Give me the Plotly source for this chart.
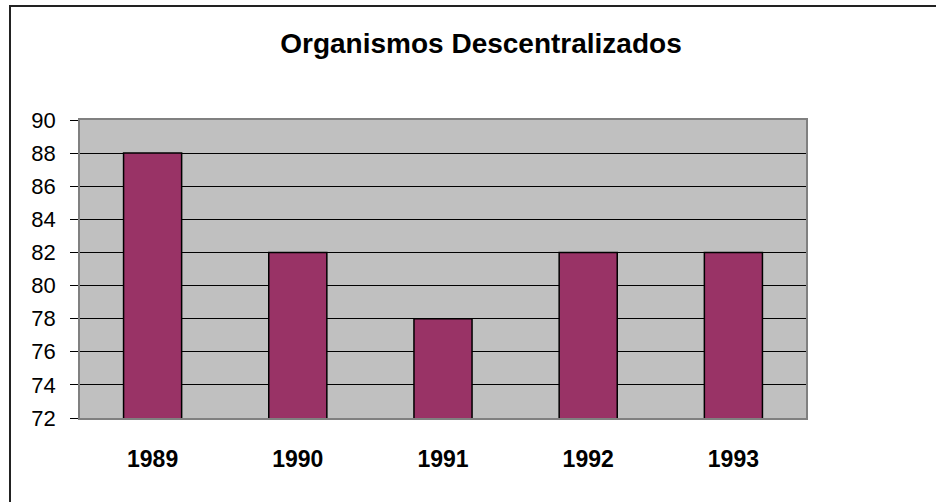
import plotly.graph_objects as go

categories = ["1989", "1990", "1991", "1992", "1993"]
values = [88, 82, 78, 82, 82]
y_ticks = [72, 74, 76, 78, 80, 82, 84, 86, 88, 90]
title_text = "Organismos Descentralizados"

W, H = 936, 502
L, R, T, B = 80, 130, 120, 84
pw, ph = W - L - R, H - T - B

fig = go.Figure()
fig.add_trace(go.Bar(
    x=categories, y=values,
    marker=dict(color="#993366", line=dict(color="#000000", width=1.5)),
    width=0.4,
))

fig.update_layout(
    width=W, height=H,
    margin=dict(l=L, r=R, t=T, b=B),
    paper_bgcolor="white",
    plot_bgcolor="#C0C0C0",
    showlegend=False,
    title=dict(text=title_text, x=481 / W, xanchor="center", y=1 - 43 / H, yanchor="middle",
               font=dict(family="Liberation Sans, Arial", size=28, color="black", weight="bold")),
    font=dict(family="Liberation Sans, Arial", color="black"),
)
fig.update_xaxes(
    type="category", showgrid=False, zeroline=False,
    showline=True, linecolor="#808080", linewidth=1.5, mirror=True,
    ticks="", ticklabelstandoff=20,
    tickfont=dict(size=23, weight="bold"),
)
fig.update_yaxes(
    range=[72, 90], tickvals=y_ticks, ticktext=[str(v) for v in y_ticks],
    showgrid=True, gridcolor="#000000", gridwidth=1, zeroline=False,
    showline=True, linecolor="#808080", linewidth=1.5, mirror=True,
    ticks="outside", ticklen=8, tickcolor="#000000", tickwidth=1,
    ticklabelstandoff=10,
    tickfont=dict(size=22),
)
# outer chart border
fig.add_shape(type="rect", xref="paper", yref="paper",
              x0=(10 - L) / pw, x1=(W + 5 - L) / pw,
              y0=(H - B - (H + 5)) / ph, y1=(H - B - 6) / ph,
              line=dict(color="#222222", width=2), fillcolor="rgba(0,0,0,0)", layer="above")

fig.write_html("out.html", config={"displayModeBar": False},
               post_script="document.body.style.margin='0';")
